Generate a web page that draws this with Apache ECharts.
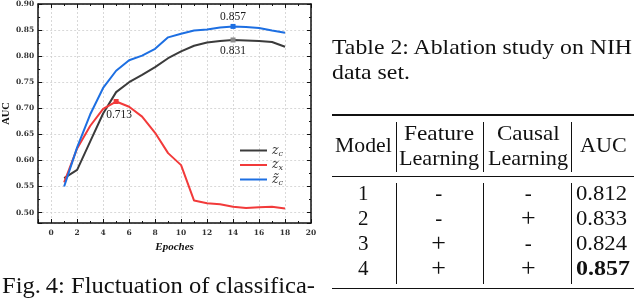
<!DOCTYPE html>
<html><head><meta charset="utf-8">
<script src="https://cdn.jsdelivr.net/npm/echarts@6/dist/echarts.min.js"></script>
<style>
html,body{margin:0;padding:0;background:#fff;}
#wrap{position:relative;width:640px;height:299px;overflow:hidden;background:#fff;}
#chart{position:absolute;left:0;top:0;width:640px;height:299px;}
.t{position:absolute;font-family:"Liberation Serif","Times New Roman",serif;color:#111;white-space:nowrap;line-height:1;}
.r{position:absolute;background:#111;}
</style></head><body>
<div id="wrap"><div id="chart"></div></div>
<script>
// ---------- data ----------
const epochs = [1,2,3,4,5,6,7,8,9,10,11,12,13,14,15,16,17,18];
const zcValues      = [0.566,0.582,0.636,0.690,0.731,0.750,0.764,0.779,0.796,0.809,0.820,0.826,0.829,0.831,0.830,0.829,0.827,0.818];
const zxValues      = [0.558,0.623,0.666,0.699,0.713,0.703,0.684,0.653,0.614,0.591,0.523,0.518,0.516,0.511,0.509,0.510,0.511,0.508];
const zcTildeValues = [0.550,0.625,0.688,0.739,0.772,0.792,0.801,0.814,0.836,0.843,0.849,0.851,0.855,0.857,0.856,0.854,0.849,0.845];
const seriesNames = ['z_c','z_x','z\u0303_c'];
const xAxisName = 'Epoches';
const yAxisName = 'AUC';

const tableCaption = ['Table 2: Ablation study on NIH','data set.'];
const figCaption = 'Fig.\u20094: Fluctuation of classifica-';
const tableHeader = [['Model'],['Feature','Learning'],['Causal','Learning'],['AUC']];
const tableModel = ['1','2','3','4'];
const tableFeature = ['-','-','+','+'];
const tableCausal = ['-','+','-','+'];
const tableAUC = ['0.812','0.833','0.824','0.857'];

// ---------- chart ----------
const colors = ['#3b3b3b','#f23a3a','#1d6fe2'];
const markColors = ['#8a8a8a','#f23a3a','#1d6fe2'];
const peakLabel = [
  {position:'bottom', distance:3, offset:[0,0]},
  {position:'bottom', distance:3, offset:[3,2]},
  {position:'top', distance:1, offset:[0,0]}
];
const allVals = [zcValues, zxValues, zcTildeValues];

const series = allVals.map((vals,i)=>{
  let p = 0; vals.forEach((v,k)=>{ if(v>vals[p]) p=k; });
  return {
    name: seriesNames[i], type:'line', z: [2,3,4][i],
    data: epochs.map((e,k)=>[e, vals[k]]),
    showSymbol:false, symbol:'none', smooth:false,
    lineStyle:{width:2, color:colors[i]}, itemStyle:{color:colors[i]},
    markPoint:{
      symbol:'rect', symbolSize:5, itemStyle:{color:markColors[i]},
      data:[{coord:[epochs[p], vals[p]], value: vals[p]}],
      label:Object.assign({show:true, formatter:(d)=>Number(d.value).toFixed(3),
        fontFamily:'Liberation Serif', fontSize:11.5, color:'#1a1a1a'}, peakLabel[i])
    }
  };
});

const tickLab = {fontFamily:'DejaVu Serif', fontWeight:'bold', fontSize:7.5, color:'#333'};
const axisLineStyle = {color:'#111', width:1.5};
const splitStyle = {color:'#cfcfcf', type:[2,2], width:0.8};

function xAx(pos){
  return {
    type:'value', position:pos, min:-1, max:20, splitNumber:10,
    axisLine:{show:true, onZero:false, lineStyle:axisLineStyle},
    axisTick:{show:true, inside:true, length:4, lineStyle:{color:'#111', width:1}},
    minorTick:{show:true, splitNumber:2, length:2, lineStyle:{color:'#111', width:1}},
    axisLabel:{show:pos==='bottom', margin:6, formatter:(v)=> v<0 ? '' : String(v), ...tickLab},
    splitLine:{show:pos==='bottom', lineStyle:splitStyle},
    name: pos==='bottom' ? xAxisName : '', nameLocation:'middle', nameGap:14,
    nameTextStyle:{fontFamily:'Liberation Serif', fontStyle:'italic', fontWeight:'bold', fontSize:11, color:'#111'}
  };
}
function yAx(pos){
  return {
    type:'value', position:pos, min:0.48, max:0.90, splitNumber:8,
    axisLine:{show:true, onZero:false, lineStyle:axisLineStyle},
    axisTick:{show:true, inside:true, length:4, lineStyle:{color:'#111', width:1}},
    minorTick:{show:true, splitNumber:2, length:2, lineStyle:{color:'#111', width:1}},
    axisLabel:{show:pos==='left', margin:4, formatter:(v)=> v<0.495 ? '' : v.toFixed(2), ...tickLab},
    splitLine:{show:pos==='left', lineStyle:splitStyle},
    name: pos==='left' ? yAxisName : '', nameLocation:'middle', nameGap:19,
    nameTextStyle:{fontFamily:'Liberation Serif', fontWeight:'bold', fontSize:10.5, color:'#111'}
  };
}

const chart = echarts.init(document.getElementById('chart'), null, {renderer:'canvas'});
chart.setOption({
  animation:false,
  backgroundColor:'transparent',
  grid:{left:37, top:3, width:274, height:220, containLabel:false},
  xAxis:[xAx('bottom'), xAx('top')],
  yAxis:[yAx('left'), yAx('right')],
  legend:{
    orient:'vertical', left:235, top:139, icon:'rect', itemWidth:27, itemHeight:2, itemGap:1,
    data: seriesNames,
    formatter:(name)=>{ const [b,s]=name.split('_'); return '{i|'+b+'}{s|'+s+'}'; },
    textStyle:{color:'#333', padding:[0,0,0,0],
      rich:{
        i:{fontFamily:'DejaVu Serif', fontStyle:'italic', fontSize:12.5, lineHeight:14, color:'#333'},
        s:{fontFamily:'DejaVu Serif', fontStyle:'italic', fontSize:8, lineHeight:8, verticalAlign:'bottom', color:'#333'}
      }}
  },
  series
});

// ---------- text / table ----------
const wrap = document.getElementById('wrap');
const ASC = 0.8375; // baseline offset for Liberation Serif at line-height 1
function txt(s, x, base, size, opt){
  opt = opt||{};
  const d = document.createElement('div');
  d.className='t'; d.textContent=s;
  d.style.fontSize=size+'px';
  if(opt.bold) d.style.fontWeight='bold';
  if(opt.family) d.style.fontFamily=opt.family;
  d.style.top=(base-ASC*size)+'px';
  wrap.appendChild(d);
  const w = d.getBoundingClientRect().width;
  const sx = opt.width ? opt.width / w : 1;
  const fw = w*sx;
  let left = x;
  if(opt.align==='center') left = x - fw/2;
  d.style.left = left+'px';
  d.style.transformOrigin='0 0';
  d.style.transform='scaleX('+sx+')';
  return d;
}
function rule(x,y,w,h){
  const d=document.createElement('div'); d.className='r';
  d.style.left=x+'px'; d.style.top=y+'px'; d.style.width=w+'px'; d.style.height=h+'px';
  wrap.appendChild(d);
}

// captions
txt(tableCaption[0], 331.5, 54.5, 22, {width:300});
txt(tableCaption[1], 331.5, 79.5, 22, {width:78});
txt(figCaption, 1.5, 293.5, 23, {width:313});

// table geometry
const colCenter = [363.3, 438.7, 528.3, 603.3];
const barsX = [395.5, 482.8, 570.8];
rule(331.5, 114, 302, 1.8);
rule(331.5, 175.6, 302, 1);
rule(331.5, 287.6, 302, 1.8);
barsX.forEach(x=>{ rule(x, 121.5, 1.1, 50.5); rule(x, 182.5, 1.1, 101.5); });

// header
const headW = {'Model':56.7,'Feature':70,'Learning':80,'Causal':62.7,'AUC':46.7};
tableHeader.forEach((lines,c)=>{
  if(lines.length===1) txt(lines[0], colCenter[c], 153.3, 21.5, {align:'center', width:headW[lines[0]]});
  else lines.forEach((s,k)=> txt(s, colCenter[c], 140.7+25*k, 21.5, {align:'center', width:headW[s]}));
});
// body
const rowBase = [200.7, 225.7, 250.7, 275.7];
const aucBest = tableAUC.reduce((b,v,i)=> parseFloat(v)>parseFloat(tableAUC[b])?i:b, 0);
function sign(s, x, base){
  if(s==='+') return txt(s, x, base+1.3, 26, {align:'center'});
  return txt(s, x, base, 21, {align:'center'});
}
tableModel.forEach((s,r)=>{
  txt(s, colCenter[0], rowBase[r], 21, {align:'center'});
  sign(tableFeature[r], colCenter[1], rowBase[r]);
  sign(tableCausal[r], colCenter[2], rowBase[r]);
  const best = r===aucBest;
  txt(tableAUC[r], 576, rowBase[r], 21, {bold:best, width: best?54:51});
});
</script>
</body></html>
